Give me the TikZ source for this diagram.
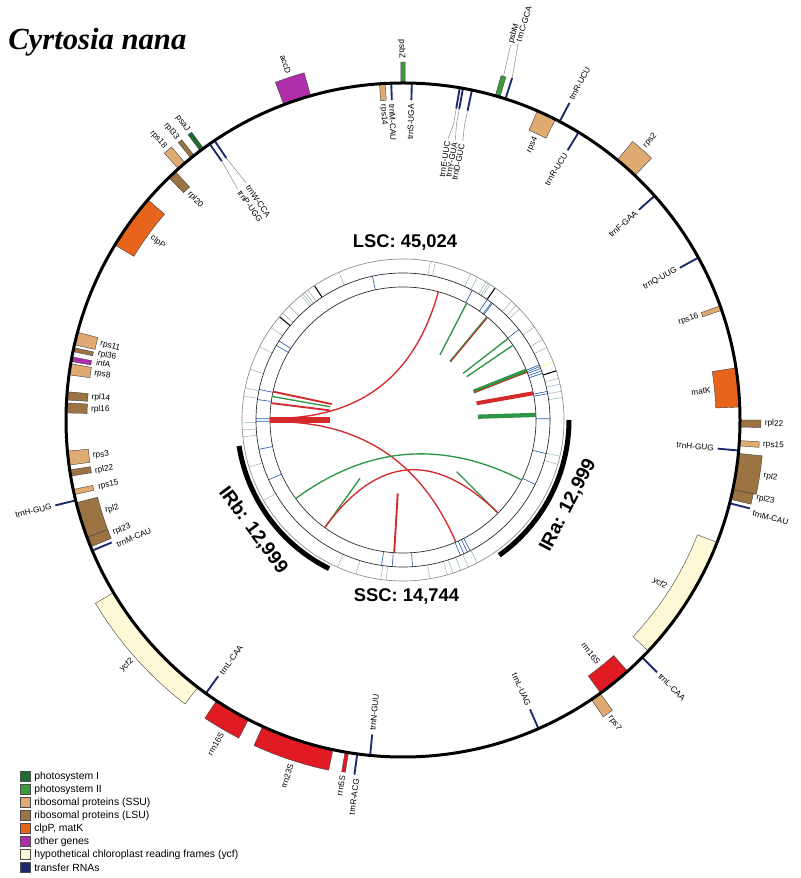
\documentclass[tikz,border=0pt]{standalone}
\usepackage{fontspec}
\setmainfont{Liberation Sans}
\newfontfamily\titlefont{Liberation Serif}
\definecolor{cPSI}{HTML}{1E6B36}
\definecolor{cPSII}{HTML}{3C9A3C}
\definecolor{cSSU}{HTML}{E0AB72}
\definecolor{cLSU}{HTML}{9C7443}
\definecolor{cCLP}{HTML}{E8641C}
\definecolor{cOTH}{HTML}{B02EAA}
\definecolor{cYCF}{HTML}{FDF8D6}
\definecolor{cTR}{HTML}{1C2A6E}
\definecolor{cRR}{HTML}{E11B24}
\definecolor{cRed}{HTML}{D42A2C}
\definecolor{cGrn}{HTML}{2E9646}
\definecolor{cTick}{HTML}{8FB2B2}
\definecolor{cBlue}{HTML}{2F63B2}
\tikzset{
  lbl/.style={font=\fontsize{6.2}{7}\selectfont, inner sep=0.5pt},
  gene/.style={draw=black!75, line width=0.3pt},
  trna/.style={draw=cTR, line width=1.4pt},
  leader/.style={draw=black!55, line width=0.3pt},
  ltick/.style={draw=cTick, line width=0.35pt},
  btick/.style={draw=cBlue, line width=0.5pt},
  ring/.style={draw=black!85, line width=0.5pt},
  rch/.style={draw=cRed, line width=1pt},
  gch/.style={draw=cGrn, line width=1pt},
  reglbl/.style={font=\bfseries\fontsize{14.3}{16}\selectfont, inner sep=1pt},
}
\newcommand{\gbox}[5]{\path[gene,fill=#5] (#1:#3) arc[start angle=#1,end angle=#2,radius=#3] -- (#2:#4) arc[start angle=#2,end angle=#1,radius=#4] -- cycle;}
\newcommand{\tline}[3]{\draw[trna] (#1:#2) -- (#1:#3);}
\newcommand{\labo}[4]{%
  \pgfmathsetmacro{\mylc}{cos(#2)}%
  \ifdim\mylc pt<0pt\relax
    \node[lbl,rotate=#2+180,anchor=east] (#1) at (#2:#3) {#4};%
  \else
    \node[lbl,rotate=#2,anchor=west] (#1) at (#2:#3) {#4};%
  \fi}
\newcommand{\labi}[4]{%
  \pgfmathsetmacro{\mylc}{cos(#2)}%
  \ifdim\mylc pt<0pt\relax
    \node[lbl,rotate=#2+180,anchor=west] (#1) at (#2:#3) {#4};%
  \else
    \node[lbl,rotate=#2,anchor=east] (#1) at (#2:#3) {#4};%
  \fi}
\begin{document}
\begin{tikzpicture}[x=0.75pt,y=0.75pt]
\useasboundingbox (0,0) rectangle (800,878);
\fill[white] (0,0) rectangle (800,878);
\node[anchor=base west, inner sep=0pt, font=\titlefont\bfseries\itshape\fontsize{23}{26}\selectfont] (title) at (8,828) {Cyrtosia nana};

\begin{scope}[shift={(403,458)}]
% ---------- inner rings ----------
\foreach \a in {8,10.3,12.9,15,26.8,30,35.3,43.6,45.3,47.5,57.3,58,59,62.5,65.2,78.4,80.2,113.5,126.2,127.5,128.5,129.3,135,138.4,145,152.9,161.6,168.5,171.5,181,183.5,186,-97.9,-96,-80.4,-74,-72,-69,-66,-62.5,-114,-107,-13,-16,197,210}
  \draw[ltick] (\a:147) -- (\a:161);
\foreach \a in {55.1,17.8,140.1,123.4}
  \draw[draw=black, line width=0.8pt] (\a:147) -- (\a:161);
\draw[draw=yellow!60!white, line width=0.5pt] (21.1:147) -- (21.1:161);
\foreach \a in {102,61.9,55,53,52.5,38,22,21.3,20.5,19.5,18.5,11.2,10.3,0.5,-13.2,-26,147.5,149.5,168,172,179.5,180.5,191.5,204,-98.4,-94.2,-86.3,-67,-65.5,-64,-62.8}
  \draw[btick] (\a:133) -- (\a:147);
\draw[draw=black!45, line width=0.5pt] (0,0) circle[radius=161];
\draw[ring] (0,0) circle[radius=147];
\draw[ring] (0,0) circle[radius=133];
% IR arcs
\draw[line width=3.75pt] (189:166) arc[start angle=189,end angle=243.56,radius=166];
\draw[line width=3.75pt] (-54.56:166) arc[start angle=-54.56,end angle=0,radius=166];
% ---------- repeat links ----------
\draw[rch] (74.6:133) .. controls (74.6:44) and (179.3:44) .. (179.3:133);
\draw[rch] (180.7:133) .. controls (180.7:44) and (293.4:44) .. (293.4:133);
\draw[gch] (216.2:133) .. controls (216.2:44) and (333.2:44) .. (333.2:133);
\draw[gch] (234:133) -- (233.6:72.4);
\draw[gch] (-44.4:133) -- (-43.9:74.5);
\draw[rch] (234:133) .. controls (234:44) and (315.6:44) .. (315.6:133);
\draw[gch] (61.4:133) -- (60.4:75);
\draw[gch, line width=1.4pt] (50.8:133) -- (51.1:75);
\draw[rch, line width=0.7pt] (50.5:133) -- (50.8:75);
\draw[gch] (37.8:133) -- (37.8:76);
\draw[gch] (34.2:133) -- (34.2:77);
\draw[gch, line width=3pt] (21.8:133) -- (21.9:76);
\draw[rch, line width=0.6pt] (21.0:133) -- (21.2:76);
\draw[rch, line width=3pt] (11.6:133) -- (12.8:75.5);
\draw[gch, line width=3.2pt] (2.2:133) -- (2.5:75);
\draw[rch, line width=1.4pt] (167.7:133) -- (167.4:73);
\draw[gch] (169.8:133) -- (169.7:74);
\draw[rch, line width=1.4pt] (172.7:133) -- (172.5:74);
\draw[rch, line width=4pt] (180:133) -- (180:73);
\draw[rch, line width=1.4pt] (266.2:133) -- (265.9:73.5);
% ---------- region labels ----------
\node[reglbl, rotate=-53.7] (irb) at (216.3:186) {IRb: 12,999};
\node[reglbl, rotate=62.7] (ira) at (-27.3:186) {IRa: 12,999};

% ---------- gene map ----------
% outside genes
\gbox{105.9}{110.7}{337}{361}{cOTH}
\gbox{89.65}{90.35}{337}{358}{cPSII}
\gbox{126.3}{127.0}{337}{357}{cPSI}
\gbox{128.3}{129.0}{337}{357}{cLSU}
\gbox{130.3}{131.8}{337}{358}{cSSU}
\gbox{73.3}{74.1}{337}{358}{cPSII}
\gbox{46.5}{50.5}{337}{361}{cSSU}
\gbox{-1.2}{0}{337}{358}{cLSU}
\gbox{-4.4}{-3.5}{337}{357}{cSSU}
\gbox{-11.9}{-5.7}{337}{361}{cLSU}
\gbox{-13.6}{-11.9}{337}{358}{cLSU}
\gbox{-56.0}{-54.2}{337}{358}{cSSU}
\gbox{210.8}{232.5}{337}{358}{cYCF}
\gbox{236.4}{242.7}{337}{358}{cRR}
\gbox{245.4}{258}{337}{358}{cRR}
\gbox{260.1}{260.7}{337}{357}{cRR}
% inside genes
\gbox{93.0}{94.0}{337}{320}{cSSU}
\gbox{132.5}{134.0}{337}{316}{cLSU}
\gbox{139.2}{148.7}{337}{315}{cCLP}
\gbox{164.9}{167.1}{337}{316}{cSSU}
\gbox{167.6}{168.3}{337}{317}{cLSU}
\gbox{169.2}{170.0}{337}{317}{cOTH}
\gbox{170.4}{172.3}{337}{316}{cSSU}
\gbox{175.2}{176.6}{337}{316}{cLSU}
\gbox{177.1}{178.8}{337}{316}{cLSU}
\gbox{185.3}{187.7}{337}{316}{cSSU}
\gbox{188.5}{189.6}{337}{316}{cLSU}
\gbox{191.9}{192.8}{337}{317}{cSSU}
\gbox{194.2}{200.4}{337}{315}{cLSU}
\gbox{200.4}{202.1}{337}{315}{cLSU}
\gbox{63.1}{66.5}{337}{316}{cSSU}
\gbox{19.0}{19.8}{337}{317}{cSSU}
\gbox{2.2}{8.9}{337}{313}{cCLP}
\gbox{-43.3}{-21.3}{337}{316}{cYCF}
\gbox{-54.1}{-48.2}{337}{316}{cRR}
% tRNAs outside
\tline{72.3}{337}{359}
\tline{62.3}{337}{358}
\tline{-14.3}{337}{358}
\tline{-44.8}{337}{358}
\tline{193.8}{337}{358}
\tline{262.2}{337}{358}
% tRNAs inside
\tline{92.0}{337}{320}
\tline{88.5}{337}{320}
\tline{80.3}{337}{316}
\tline{79.75}{337}{316}
\tline{78.2}{337}{316}
\tline{124.0}{337}{316}
\tline{125.0}{337}{316}
\tline{58.6}{337}{316}
\tline{41.7}{337}{316}
\tline{28.8}{337}{316}
\tline{-5.2}{337}{316}
\tline{-66.3}{337}{316}
\tline{264.4}{337}{316}
\tline{234.2}{337}{316}
\tline{202.8}{337}{316}
% main circle
\draw[line width=2.25pt] (0,0) circle[radius=337];
% leader lines
\draw[leader] (124.0:316) -- (123.5:284);
\draw[leader] (125.0:316) -- (125.6:284);
\draw[leader] (80.3:316) -- (80.3:300) -- (80.9:285);
\draw[leader] (79.75:316) -- (79.75:300) -- (79.4:285);
\draw[leader] (78.2:316) -- (78.2:300) -- (77.9:285);
\draw[leader] (73.7:358) -- (74.0:390);
\draw[leader] (72.3:359) -- (73.0:394);
% outside labels
\labo{l-accD}{108.3}{364}{accD}
\labo{l-psbZ}{90.2}{361}{psbZ}
\labo{l-psaJ}{126.6}{360}{psaJ}
\labo{l-rpl33}{128.7}{360}{rpl33}
\labo{l-rps18}{131.1}{361}{rps18}
\labo{l-rps2}{48.5}{364}{rps2}
\labo{l-trnRo}{62.3}{361}{trnR-UCU}
\labo{l-rpl22R}{-0.6}{361}{rpl22}
\labo{l-rps15R}{-3.9}{360}{rps15}
\labo{l-rpl2R}{-8.8}{364}{rpl2}
\labo{l-rpl23R}{-12.4}{361}{rpl23}
\labo{l-trnMR}{-14.9}{361}{trnM-CAU}
\labo{l-trnLCR}{-44.8}{361}{trnL-CAA}
\labo{l-rps7}{-55.1}{361}{rps7}
\labo{l-ycf2L}{221.6}{361}{ycf2}
\labo{l-rrn16L}{240}{361}{rrn16S}
\labo{l-rrn23L}{252}{361}{rrn23S}
\labo{l-rrn5}{260.4}{360}{rrn5S}
\labo{l-trnRA}{262.6}{361}{trnR-ACG}
\labo{l-trnHL}{193.8}{361}{trnH-GUG}
\labo{l-psbM}{74.0}{391}{psbM}
\labo{l-trnC}{73.0}{395}{trnC-GCA}
% inside labels
\labi{l-rps14}{93.6}{317}{rps14}
\labi{l-trnMt}{92.0}{317}{trnM-CAU}
\labi{l-trnS}{88.5}{317}{trnS-UGA}
\labi{l-rpl20}{133.3}{313}{rpl20}
\labi{l-clpP}{144}{312}{clpP}
\labi{l-rps11}{165.8}{313}{rps11}
\labi{l-rpl36}{167.7}{313}{rpl36}
\labi{l-infA}{169.3}{313}{infA}
\labi{l-rps8}{171.4}{313}{rps8}
\labi{l-rpl14}{175.8}{313}{rpl14}
\labi{l-rpl16}{178.0}{313}{rpl16}
\labi{l-rps3}{186.6}{313}{rps3}
\labi{l-rpl22L}{189.4}{313}{rpl22}
\labi{l-rps15L}{192.5}{313}{rps15}
\labi{l-rpl2L}{197.0}{312}{rpl2}
\labi{l-rpl23L}{201.3}{312}{rpl23}
\labi{l-trnML}{203.6}{313}{trnM-CAU}
\labi{l-rps4}{64.8}{313}{rps4}
\labi{l-trnRi}{58.6}{313}{trnR-UCU}
\labi{l-trnF}{41.7}{313}{trnF-GAA}
\labi{l-trnQ}{28.8}{313}{trnQ-UUG}
\labi{l-rps16}{19.4}{314}{rps16}
\labi{l-matK}{5.5}{310}{matK}
\labi{l-trnHR}{-5.2}{313}{trnH-GUG}
\labi{l-ycf2R}{-32.5}{313}{ycf2}
\labi{l-rrn16R}{-51.2}{313}{rrn16S}
\labi{l-trnLU}{-66.3}{313}{trnL-UAG}
\labi{l-trnN}{264.4}{313}{trnN-GUU}
\labi{l-trnLCL}{234.4}{313}{trnL-CAA}
\labi{l-trnW}{123.5}{282}{trnW-CCA}
\labi{l-trnP}{125.6}{282}{trnP-UGG}
\labi{l-trnE}{80.9}{283}{trnE-UUC}
\labi{l-trnY}{79.4}{283}{trnY-GUA}
\labi{l-trnD}{77.9}{283}{trnD-GUC}
\end{scope}

\node[font=\bfseries\fontsize{13.8}{15}\selectfont] (lsc) at (405,635.5) {LSC: 45,024};
\node[font=\bfseries\fontsize{13.8}{15}\selectfont] (ssc) at (406.5,281) {SSC: 14,744};

% legend
\foreach \c/\t [count=\i] in {cPSI/photosystem I, cPSII/photosystem II, cSSU/ribosomal proteins (SSU), cLSU/ribosomal proteins (LSU), cCLP/{clpP, matK}, cOTH/other genes, cYCF/hypothetical chloroplast reading frames (ycf), cTR/transfer RNAs} {
  \pgfmathsetmacro{\yy}{101.3-(\i-1)*12.95}
  \path[draw=black!70, line width=0.4pt, fill=\c] (20.7,\yy-5) rectangle +(10,10);
  \node[anchor=west, inner sep=0pt, font=\fontsize{7.8}{9}\selectfont] (leg\i) at (34,\yy) {\t};
}
\end{tikzpicture}
\end{document}
